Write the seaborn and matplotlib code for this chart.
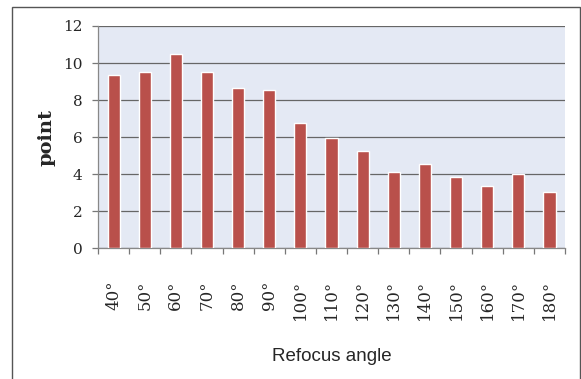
import matplotlib
matplotlib.use("Agg")
import matplotlib.pyplot as plt
from matplotlib.patches import Rectangle
import seaborn as sns
import pandas as pd

angles = ["40°", "50°", "60°", "70°", "80°", "90°", "100°", "110°",
          "120°", "130°", "140°", "150°", "160°", "170°", "180°"]
points = [9.38, 9.53, 10.5, 9.53, 8.65, 8.52, 6.77, 5.95,
          5.26, 4.11, 4.54, 3.84, 3.37, 4.0, 3.06]
y_ticks = [0, 2, 4, 6, 8, 10, 12]

df = pd.DataFrame({"angle": angles, "point": points})

sns.set_style("white")
fig = plt.figure(figsize=(5.81, 3.79), dpi=100)
ax = fig.add_axes([0.1687, 0.3449, 0.8038, 0.5865])

sns.barplot(data=df, x="angle", y="point", color="#B9504B", saturation=1,
            width=0.39, ax=ax, zorder=3)

ax.set_facecolor("#E4E9F4")
ax.set_ylim(0, 12)
ax.set_xlim(-0.5, len(angles) - 0.5)
ax.set_yticks(y_ticks)
ax.set_yticklabels([str(v) for v in y_ticks], family="DejaVu Serif", fontsize=11)

ax.yaxis.grid(True, color="#666666", linewidth=0.9, zorder=1)
ax.set_axisbelow(True)

# tick labels at category centres, tick marks at category boundaries
ax.set_xticks(range(len(angles)))
ax.set_xticklabels(angles, rotation=90, family="DejaVu Serif", fontsize=12)
ax.tick_params(axis="x", which="major", length=0, pad=23, bottom=True)
ax.set_xticks([i - 0.5 for i in range(len(angles) + 1)], minor=True)
ax.tick_params(axis="x", which="minor", length=4, width=0.9, color="#777777",
               direction="out", bottom=True)
ax.tick_params(axis="y", length=4, width=0.9, color="#777777", direction="out",
               left=True, pad=7)

for side in ["top", "right"]:
    ax.spines[side].set_visible(False)
for side in ["left", "bottom"]:
    ax.spines[side].set_color("#888888")
    ax.spines[side].set_linewidth(0.9)

ax.set_ylabel("point", family="DejaVu Serif", fontweight="bold", fontsize=14,
              labelpad=5.5)
ax.set_xlabel("Refocus angle", family="Liberation Sans", fontsize=13.5,
              labelpad=20)

# outer frame of the chart
fig.patches.append(Rectangle((11.5 / 581, -0.01), (580 - 11.5) / 581, 1 - 7 / 379 + 0.01,
                             transform=fig.transFigure, fill=False,
                             edgecolor="#555555", linewidth=1.0))

fig.savefig("out.png", dpi=100)
